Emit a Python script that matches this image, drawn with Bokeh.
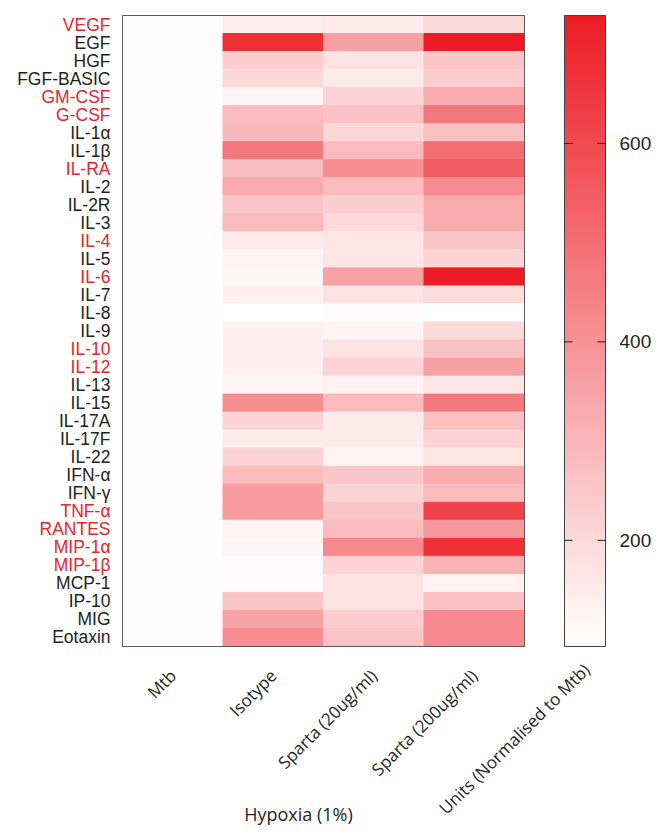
import math
from bokeh.plotting import figure
from bokeh.models import (ColumnDataSource, LinearColorMapper, ColorBar, FixedTicker, Range1d)
from bokeh.transform import transform
from bokeh.core.properties import value
from bokeh.embed import file_html
from bokeh.resources import INLINE

# ---------------- data ----------------
cytokines = ["VEGF", "EGF", "HGF", "FGF-BASIC", "GM-CSF", "G-CSF", "IL-1α", "IL-1β",
             "IL-RA", "IL-2", "IL-2R", "IL-3", "IL-4", "IL-5", "IL-6", "IL-7", "IL-8",
             "IL-9", "IL-10", "IL-12", "IL-13", "IL-15", "IL-17A", "IL-17F", "IL-22",
             "IFN-α", "IFN-γ", "TNF-α", "RANTES", "MIP-1α", "MIP-1β", "MCP-1", "IP-10",
             "MIG", "Eotaxin"]
highlighted = ["VEGF", "GM-CSF", "G-CSF", "IL-RA", "IL-4", "IL-6", "IL-10", "IL-12",
               "TNF-α", "RANTES", "MIP-1α", "MIP-1β"]
conditions = ["Mtb", "Isotype", "Sparta (20ug/ml)", "Sparta (200ug/ml)"]

mtb = [100] * 35
isotype = [145, 672, 233, 207, 125, 284, 290, 466, 277, 330, 258, 284, 157, 125, 118, 138,
           93, 138, 138, 138, 118, 410, 213, 150, 213, 284, 372, 372, 131, 118, 105, 105,
           258, 347, 410]
sparta20 = [155, 360, 176, 150, 213, 265, 207, 284, 410, 277, 233, 200, 170, 170, 354, 176,
            105, 125, 176, 213, 131, 284, 150, 150, 131, 252, 213, 252, 284, 424, 213, 176,
            176, 233, 258]
sparta200 = [200, 729, 252, 233, 330, 475, 271, 500, 545, 418, 330, 330, 252, 213, 729, 195,
             95, 200, 265, 360, 170, 466, 271, 213, 170, 322, 284, 621, 379, 672, 310, 131,
             271, 424, 424]

scale_low, scale_high = 93, 729
scale_ticks = [200, 400, 600]
x_group_label = "Hypoxia (1%)"
scale_label = "Units (Normalised to Mtb)"

# ---------------- layout (pixels) ----------------
W, H = 661, 827                 # canvas
HM_LEFT, HM_TOP = 122, 15       # heatmap frame position on the canvas
HM_W, HM_H = 402, 631
CB_LEFT, CB_W = 564, 41         # colour bar
n_cols, n_rows = len(conditions), len(cytokines)
PX = HM_W / n_cols              # pixels per column unit
PY = HM_H / n_rows              # pixels per row unit
HM_BOTTOM = HM_TOP + HM_H

# ---------------- styling ----------------
RED = "#E5252B"
INK = "#231F20"
LABEL_FONT = "Liberation Sans"
XFONT = "Open Sans"


def lerp_palette(c0, c1, n=256):
    out = []
    for i in range(n):
        t = i / (n - 1)
        out.append("#%02x%02x%02x" % tuple(round(a + (b - a) * t) for a, b in zip(c0, c1)))
    return out


palette = lerp_palette((255, 255, 255), (237, 28, 36))
mapper = LinearColorMapper(palette=palette, low=scale_low, high=scale_high)

# data coordinates: column i spans [i, i+1], row j (from bottom) spans [j, j+1]
p = figure(x_range=Range1d(-HM_LEFT / PX, (W - HM_LEFT) / PX),
           y_range=Range1d(-(H - HM_BOTTOM) / PY, HM_BOTTOM / PY),
           frame_width=W, frame_height=H, min_border=0,
           x_axis_location=None, y_axis_location=None,
           output_backend="svg", toolbar_location=None, tools="")
p.outline_line_color = None
p.grid.visible = False
p.background_fill_color = "white"
p.border_fill_color = "white"

# heatmap cells
series = [mtb, isotype, sparta20, sparta200]
xs, ys, vs = [], [], []
for ci, vals in enumerate(series):
    for ri, v in enumerate(vals):
        xs.append(ci + 0.5)
        ys.append(n_rows - ri - 0.5)
        vs.append(v)
src = ColumnDataSource(dict(x=xs, y=ys, v=vs))
p.rect(x="x", y="y", width=1, height=1, source=src,
       fill_color=transform("v", mapper), line_color=transform("v", mapper), line_width=1)

# heatmap frame
p.rect(x=n_cols / 2, y=n_rows / 2, width=n_cols, height=n_rows, fill_color=None,
       line_color="#58595B", line_width=1, level="overlay")

# row labels (red = highlighted)
lab_src = ColumnDataSource(dict(
    x=[-12 / PX] * n_rows,
    y=[n_rows - i - 0.5 for i in range(n_rows)],
    text=cytokines,
    color=[RED if n in highlighted else INK for n in cytokines]))
p.text(x="x", y="y", text="text", text_color="color", source=lab_src,
       text_align="right", text_baseline="middle",
       text_font=value(LABEL_FONT), text_font_size=value("17.5px"))

# column labels (rotated 45 degrees)
col_src = ColumnDataSource(dict(
    x=[i + 0.5 for i in range(n_cols)],
    y=[-26 / PY] * n_cols,
    text=conditions))
p.text(x="x", y="y", text="text", source=col_src, angle=math.pi / 4,
       text_align="right", text_baseline="middle", text_color=INK,
       text_font=value(XFONT), text_font_size=value("17px"))

# group label and colour-bar label
p.text(x=[(298 - HM_LEFT) / PX], y=[-(813 - HM_BOTTOM) / PY], text=[x_group_label],
       text_align="center", text_baseline="alphabetic", text_color=INK,
       text_font=value(XFONT), text_font_size=value("18px"))
p.text(x=[(586 - HM_LEFT) / PX], y=[-(666 - HM_BOTTOM) / PY], text=[scale_label],
       angle=math.pi / 4, text_align="right", text_baseline="middle", text_color=INK,
       text_font=value(XFONT), text_font_size=value("17px"))

# colour bar (same vertical extent as the heatmap)
cb = ColorBar(color_mapper=mapper, ticker=FixedTicker(ticks=scale_ticks),
              width=CB_W, height=HM_H, location=(CB_LEFT, H - HM_BOTTOM),
              padding=0, margin=0, label_standoff=14,
              major_tick_in=0, major_tick_out=0, major_tick_line_color=None,
              minor_tick_line_color=None,
              bar_line_color="#414042", bar_line_width=1,
              major_label_text_font=LABEL_FONT, major_label_text_font_size="19px",
              major_label_text_color=INK, background_fill_color=None, border_line_color=None)
p.add_layout(cb)

# colour-bar tick marks on both inner edges
cb_x0 = (CB_LEFT - HM_LEFT) / PX
cb_x1 = (CB_LEFT + CB_W - HM_LEFT) / PX
tick_len = 8 / PX
ty = [(t - scale_low) / (scale_high - scale_low) * n_rows for t in scale_ticks]
p.segment(x0=[cb_x0] * len(ty) + [cb_x1 - tick_len] * len(ty),
          x1=[cb_x0 + tick_len] * len(ty) + [cb_x1] * len(ty),
          y0=ty + ty, y1=ty + ty, line_color=INK, line_width=1, level="overlay")

open("out.html", "w").write(file_html(p, INLINE))
